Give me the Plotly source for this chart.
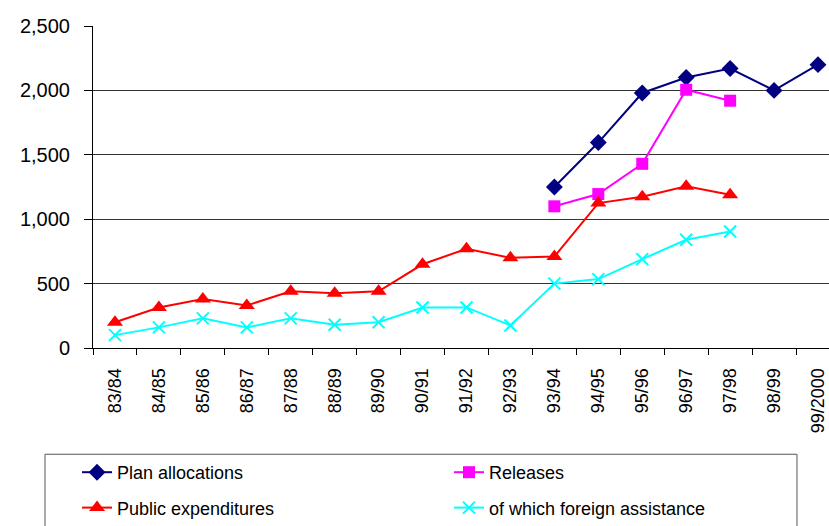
import plotly.graph_objects as go

years = ["83/84", "84/85", "85/86", "86/87", "87/88", "88/89", "89/90", "90/91",
         "91/92", "92/93", "93/94", "94/95", "95/96", "96/97", "97/98", "98/99", "99/2000"]

plan_allocations = [None]*10 + [1250, 1595, 1980, 2100, 2170, 2000, 2200]
releases = [None]*10 + [1100, 1195, 1430, 2005, 1920, None, None]
public_expenditures = [200, 315, 380, 330, 440, 425, 440, 650, 770, 700, 710,
                       1125, 1175, 1255, 1190, None, None]
foreign_assistance = [100, 160, 230, 160, 230, 180, 200, 315, 315, 175, 500,
                      535, 690, 840, 905, None, None]

FONT = "Liberation Sans, Arial, sans-serif"

fig = go.Figure()
fig.add_trace(go.Scatter(x=years, y=plan_allocations, name="Plan allocations",
                         mode="lines+markers", legend="legend", legendgroup="a",
                         line=dict(color="#000080", width=2),
                         marker=dict(symbol="diamond", size=13, color="#000080")))
fig.add_trace(go.Scatter(x=years, y=releases, name="Releases",
                         mode="lines+markers", legend="legend2", legendgroup="b",
                         line=dict(color="#FF00FF", width=2),
                         marker=dict(symbol="square", size=12, color="#FF00FF")))
fig.add_trace(go.Scatter(x=years, y=public_expenditures, name="Public expenditures",
                         mode="lines+markers", legend="legend", legendgroup="c",
                         line=dict(color="#FF0000", width=2),
                         marker=dict(symbol="triangle-up", size=14, color="#FF0000")))
fig.add_trace(go.Scatter(x=years, y=foreign_assistance, name="of which foreign assistance",
                         mode="lines+markers", legend="legend2", legendgroup="d",
                         line=dict(color="#00FFFF", width=2),
                         marker=dict(symbol="x-thin", size=12,
                                     line=dict(color="#00FFFF", width=2))))

leg_common = dict(orientation="v", yanchor="top", xanchor="left",
                  font=dict(family=FONT, size=18, color="black"),
                  bgcolor="rgba(0,0,0,0)", borderwidth=0, tracegroupgap=9)

fig.update_layout(
    width=829, height=526,
    margin=dict(l=93, r=0, t=26, b=176),
    paper_bgcolor="white", plot_bgcolor="white",
    font=dict(family=FONT, color="black", size=18),
    showlegend=True,
    legend=dict(x=-0.0217, y=-0.33, **leg_common),
    legend2=dict(x=0.4837, y=-0.33, **leg_common),
    xaxis=dict(type="category", range=[-0.5, 16.25], showgrid=False,
               showline=True, linecolor="black", linewidth=1,
               ticks="outside", tickson="boundaries", ticklen=6, tickcolor="black",
               tickangle=-90, tickfont=dict(family=FONT, size=18, color="black"),
               ticklabelstandoff=12),
    yaxis=dict(range=[0, 2500], dtick=500, tickformat=",", showgrid=True,
               gridcolor="#333333", gridwidth=1,
               showline=True, linecolor="black", linewidth=1,
               ticks="outside", ticklen=8, tickcolor="black",
               tickfont=dict(family=FONT, size=20, color="black"),
               ticklabelstandoff=10, zeroline=False),
    shapes=[dict(type="rect", xref="paper", yref="paper",
                 x0=-0.0652, x1=0.9565, y0=-0.33, y1=-0.7,
                 line=dict(color="#555555", width=1), fillcolor="rgba(0,0,0,0)")],
)

fig.write_html("out.html")
